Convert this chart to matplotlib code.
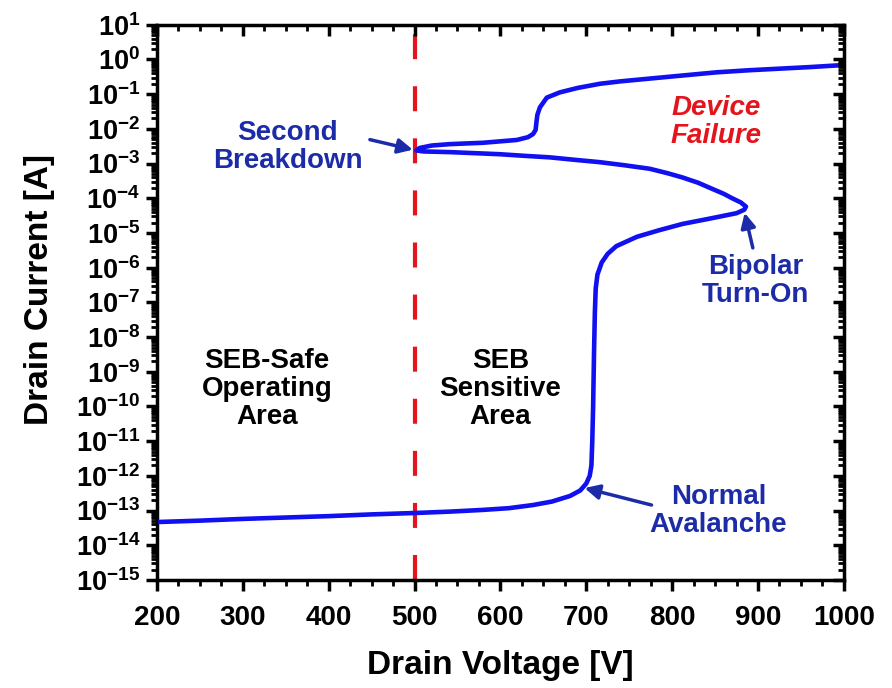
import matplotlib
matplotlib.use('Agg')
import matplotlib.pyplot as plt
import matplotlib.ticker as ticker
import numpy as np

voltaje = [200, 250, 300, 350, 400, 450, 500, 541, 580, 610, 638, 660, 681, 693,
           700, 704, 706, 707, 708, 709, 710, 711, 713, 718, 725, 735, 759, 785,
           812, 845, 875, 884, 886, 880, 870, 860, 844, 830, 812, 795, 774, 745,
           716, 690, 657, 630, 599, 541, 510, 502, 506, 520, 541, 580, 619, 632,
           638, 641, 642, 643, 646, 654, 669, 690, 716, 740, 770, 800, 852, 890,
           929, 960, 1000]
log_corriente = [-13.33, -13.29, -13.24, -13.20, -13.16, -13.11, -13.07, -13.03,
                 -12.98, -12.93, -12.84, -12.74, -12.58, -12.42, -12.22, -12.00,
                 -11.70, -11.00, -10.00, -8.50, -7.30, -6.60, -6.20, -5.85, -5.60,
                 -5.38, -5.11, -4.92, -4.74, -4.58, -4.43, -4.33, -4.24, -4.12,
                 -4.00, -3.87, -3.70, -3.55, -3.40, -3.28, -3.15, -3.05, -2.96,
                 -2.90, -2.82, -2.78, -2.73, -2.67, -2.65, -2.62, -2.55, -2.48,
                 -2.44, -2.40, -2.32, -2.24, -2.15, -2.03, -1.80, -1.60, -1.38,
                 -1.10, -0.95, -0.82, -0.70, -0.63, -0.56, -0.49, -0.37, -0.31,
                 -0.26, -0.22, -0.16]
corriente = 10.0 ** np.array(log_corriente)

v_limite = 500  # frontera SEB

# Anotaciones: texto, posicion del texto, cola y punta de la flecha
textos = ['Second\nBreakdown', 'Bipolar\nTurn-On', 'Normal\nAvalanche']
pos_texto = [(352, 10 ** -2.52), (897, 10 ** -6.38), (854, 10 ** -13.01)]
cola_flecha = [(448, 10 ** -2.31), (894, 10 ** -5.43), (776, 10 ** -12.84)]
punta_flecha = [(498, 10 ** -2.60), (884.5, 10 ** -4.42), (698, 10 ** -12.35)]

azul_linea = '#1010f0'
azul_texto = '#1c2ba8'
rojo = '#e3141c'

plt.rcParams['font.family'] = ['Liberation Sans', 'DejaVu Sans']
plt.rcParams['font.weight'] = 'bold'
plt.rcParams['mathtext.default'] = 'regular'

fig = plt.figure(figsize=(8.92, 6.88), dpi=100)
ax = fig.add_axes([0.176, 0.157, 0.770, 0.807])

ax.plot(voltaje, corriente, color=azul_linea, lw=3.3, solid_joinstyle='round', zorder=3)
ax.axvline(v_limite, color=rojo, lw=3, dashes=(6, 6.5), zorder=2)

ax.set_yscale('log')
ax.set_xlim(200, 1000)
ax.set_ylim(1e-15, 1e1)

ax.xaxis.set_major_locator(ticker.MultipleLocator(100))
ax.xaxis.set_minor_locator(ticker.MultipleLocator(25))
ax.yaxis.set_major_locator(ticker.LogLocator(base=10, numticks=30))
ax.yaxis.set_minor_locator(ticker.LogLocator(base=10, subs=np.arange(2, 10), numticks=30))
ax.yaxis.set_minor_formatter(ticker.NullFormatter())
ax.yaxis.set_major_formatter(ticker.FuncFormatter(lambda v, p: r'$\mathregular{10^{%d}}$' % round(np.log10(v))))

ax.tick_params(which='major', direction='out', length=8, width=2.5, labelsize=20, pad=4)
ax.tick_params(axis='y', which='major', labelsize=19.5)
ax.tick_params(axis='x', which='major', pad=10)
ax.tick_params(which='minor', direction='out', length=4.5, width=2)
ax.tick_params(top=False, right=False)
for s in ax.spines.values():
    s.set_linewidth(2.5)

# ejes espejo con ticks hacia dentro (arriba y derecha)
ax_top = ax.twiny()
ax_top.set_xlim(200, 1000)
ax_top.xaxis.set_major_locator(ticker.MultipleLocator(100))
ax_top.xaxis.set_minor_locator(ticker.MultipleLocator(25))
ax_top.tick_params(which='major', direction='in', length=8, width=2.5, labeltop=False)
ax_top.tick_params(which='minor', direction='in', length=4.5, width=2)

ax_der = ax.twinx()
ax_der.set_yscale('log')
ax_der.set_ylim(1e-15, 1e1)
ax_der.yaxis.set_major_locator(ticker.LogLocator(base=10, numticks=30))
ax_der.yaxis.set_minor_locator(ticker.LogLocator(base=10, subs=np.arange(2, 10), numticks=30))
ax_der.tick_params(which='major', direction='in', length=8, width=2.5, labelright=False)
ax_der.tick_params(which='minor', direction='in', length=4.5, width=2)

ax.set_xlabel('Drain Voltage [V]', fontsize=24, fontweight='bold', labelpad=14)
ax.set_ylabel('Drain Current [A]', fontsize=24, fontweight='bold')
ax.yaxis.set_label_coords(-0.148, 0.523)

# textos de las regiones
ax.text(328, 10 ** -9.49, 'SEB-Safe\nOperating\nArea', fontsize=20, fontweight='bold',
        ha='center', va='center', linespacing=1.1)
ax.text(600, 10 ** -9.49, 'SEB\nSensitive\nArea', fontsize=20, fontweight='bold',
        ha='center', va='center', linespacing=1.1)
ax.text(851, 10 ** -1.8, 'Device\nFailure', fontsize=20, fontweight='bold', style='italic',
        color=rojo, ha='center', va='center', linespacing=1.1)

for t, pt, c, h in zip(textos, pos_texto, cola_flecha, punta_flecha):
    ax.text(pt[0], pt[1], t, fontsize=20, fontweight='bold', color=azul_texto,
            ha='center', va='center', linespacing=1.1)
    ax.annotate('', xy=h, xytext=c,
                arrowprops=dict(arrowstyle='-|>', color=azul_texto, lw=2.5,
                                mutation_scale=22, shrinkA=0, shrinkB=0))

plt.savefig('out.png', dpi=100)
